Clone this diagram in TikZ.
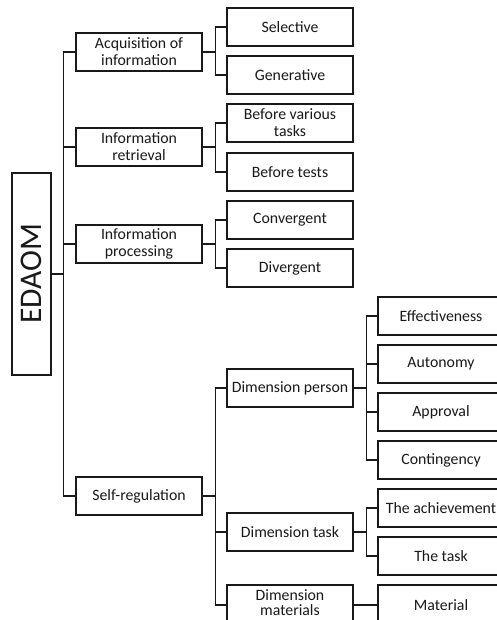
\documentclass[tikz,border=0pt]{standalone}
\usepackage{fontspec}
\setmainfont{Carlito}
\begin{document}
\begin{tikzpicture}[x=1pt,y=-1pt,
  box/.style={draw=black!90,line width=1.4pt,minimum width=126pt,minimum height=38pt,inner sep=1pt,align=center,font=\fontsize{15.8}{17}\selectfont,text=black!90},
  link/.style={draw=black!90,line width=1.4pt}]
\useasboundingbox (0,0) rectangle (497,620);
\clip (0,0) rectangle (497,620);
\fill[white] (0,0) rectangle (497,620);
% root
\node[draw=black!90,line width=1.4pt,minimum width=202pt,minimum height=39pt,inner sep=0pt,rotate=90,font=\fontsize{31.5}{33}\selectfont,text=black!90] (root) at (31.5,274) {EDAOM};
% level 1
\node[box] (acq) at (139,52) {Acquisition of\\information};
\node[box] (ret) at (139,147) {Information\\retrieval};
\node[box] (proc) at (139,244) {Information\\processing};
\node[box] (self) at (139,496) {Self-regulation};
% level 2
\node[box] (sel) at (290,27) {Selective};
\node[box] (gen) at (290,75) {Generative};
\node[box] (bvt) at (290,123) {Before various\\tasks};
\node[box] (bt) at (290,172) {Before tests};
\node[box] (conv) at (290,220) {Convergent};
\node[box] (div) at (290,268) {Divergent};
\node[box] (dp) at (290,388) {Dimension person};
\node[box] (dt) at (290,532) {Dimension task};
\node[box,minimum height=40pt] (dm) at (290,605) {\raisebox{2pt}{\begin{tabular}{@{}c@{}}Dimension\\[-2pt]materials\end{tabular}}};
% level 3
\node[box] (eff) at (441,316) {Effectiveness};
\node[box] (aut) at (441,364) {Autonomy};
\node[box] (app) at (441,412) {Approval};
\node[box] (cont) at (441,460) {Contingency};
\node[box] (ach) at (441,508) {The achievement};
\node[box] (task) at (441,556) {The task};
\node[box,minimum height=40pt] (mat) at (441,605) {Material};
% connectors
\foreach \c in {acq,ret,proc,self} \draw[link] (root.south) -- ++(12,0) |- (\c.west);
\foreach \c in {sel,gen} \draw[link] (acq.east) -- ++(13,0) |- (\c.west);
\foreach \c in {bvt,bt} \draw[link] (ret.east) -- ++(13,0) |- (\c.west);
\foreach \c in {conv,div} \draw[link] (proc.east) -- ++(13,0) |- (\c.west);
\foreach \c in {dp,dt,dm} \draw[link] (self.east) -- ++(13,0) |- (\c.west);
\foreach \c in {eff,aut,app,cont} \draw[link] (dp.east) -- ++(13,0) |- (\c.west);
\foreach \c in {ach,task} \draw[link] (dt.east) -- ++(13,0) |- (\c.west);
\draw[link] (dm.east) -- (mat.west);
\end{tikzpicture}
\end{document}
